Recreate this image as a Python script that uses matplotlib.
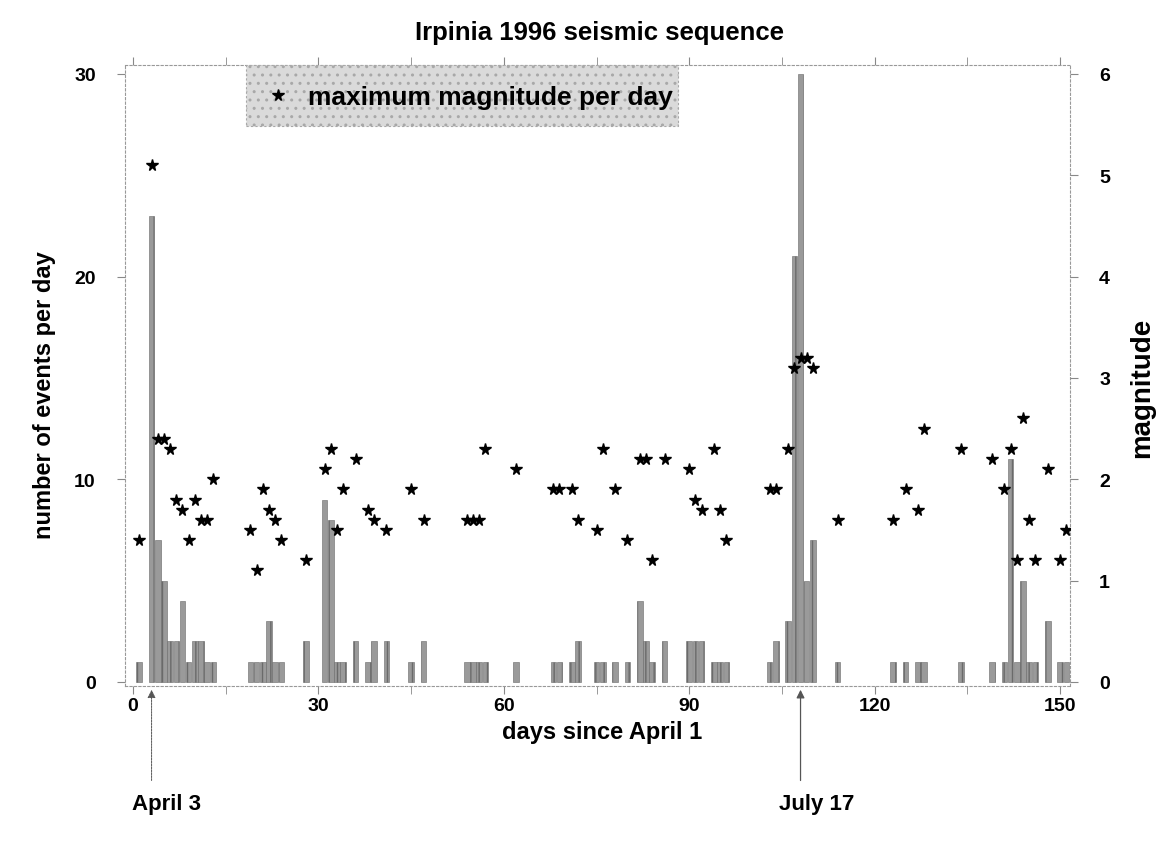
import matplotlib.pyplot as plt
import matplotlib.patches as patches
from matplotlib.ticker import MultipleLocator

plt.rcParams['font.family'] = ['Liberation Sans', 'DejaVu Sans']
plt.rcParams['font.weight'] = 'bold'

# dias com eventos (dias desde 1 de abril)
dias = [1, 3, 4, 5, 6, 7, 8, 9, 10, 11, 12, 13, 19, 20, 21, 22, 23, 24, 28,
        31, 32, 33, 34, 36, 38, 39, 41, 45, 47, 54, 55, 56, 57, 62, 68, 69,
        71, 72, 75, 76, 78, 80, 82, 83, 84, 86, 90, 91, 92, 94, 95, 96, 103,
        104, 106, 107, 108, 109, 110, 114, 123, 125, 127, 128, 134, 139, 141,
        142, 143, 144, 145, 146, 148, 150, 151]
# numero de eventos por dia
eventos = [1, 23, 7, 5, 2, 2, 4, 1, 2, 2, 1, 1, 1, 1, 1, 3, 1, 1, 2,
           9, 8, 1, 1, 2, 1, 2, 2, 1, 2, 1, 1, 1, 1, 1, 1, 1,
           1, 2, 1, 1, 1, 1, 4, 2, 1, 2, 2, 2, 2, 1, 1, 1, 1,
           2, 3, 21, 30, 5, 7, 1, 1, 1, 1, 1, 1, 1, 1,
           11, 1, 5, 1, 1, 3, 1, 1]
# magnitude maxima por dia
magnitude = [1.4, 5.1, 2.4, 2.4, 2.3, 1.8, 1.7, 1.4, 1.8, 1.6, 1.6, 2.0, 1.5, 1.1, 1.9, 1.7, 1.6, 1.4, 1.2,
             2.1, 2.3, 1.5, 1.9, 2.2, 1.7, 1.6, 1.5, 1.9, 1.6, 1.6, 1.6, 1.6, 2.3, 2.1, 1.9, 1.9,
             1.9, 1.6, 1.5, 2.3, 1.9, 1.4, 2.2, 2.2, 1.2, 2.2, 2.1, 1.8, 1.7, 2.3, 1.7, 1.4, 1.9,
             1.9, 2.3, 3.1, 3.2, 3.2, 3.1, 1.6, 1.6, 1.9, 1.7, 2.5, 2.3, 2.2, 1.9,
             2.3, 1.2, 2.6, 1.6, 1.2, 2.1, 1.2, 1.5]

W, H = 1160, 845
fig = plt.figure(figsize=(11.6, 8.45), dpi=100)
ax = fig.add_axes([125 / W, 1 - 687 / H, 945 / W, 621 / H])
ax.bar(dias, eventos, width=0.9, color='#9a9a9a', edgecolor='#6a6a6a', linewidth=0.4, hatch='||')
ax.set_xlim(-1.3, 151.6)
ax.set_ylim(-0.2, 30.44)
ax.xaxis.set_major_locator(MultipleLocator(30))
ax.xaxis.set_minor_locator(MultipleLocator(15))
ax.set_yticks([0, 10, 20, 30])
ax.tick_params(axis='both', which='both', direction='out', labelsize=14, color='#888888')
ax.tick_params(axis='x', which='both', length=6, pad=2, top=True)
ax.tick_params(axis='y', length=6, pad=15)
for s in ax.spines.values():
    s.set_color('#999999')
    s.set_linewidth(0.8)
    s.set_linestyle((0, (2, 2)))

ax2 = ax.twinx()
ax2.plot(dias, magnitude, '*', color='black', markersize=8.5, label='maximum magnitude per day')
ax2.set_ylim(-0.04, 6.088)
ax2.set_yticks([0, 1, 2, 3, 4, 5, 6])
ax2.tick_params(axis='y', direction='out', length=6, pad=15, labelsize=14, color='#888888')
for s in ax2.spines.values():
    s.set_visible(False)

# caixa da legenda
caixa = patches.Rectangle((246 / W, 1 - 127 / H), 432 / W, 61 / H, transform=fig.transFigure,
                          facecolor='#dadada', edgecolor='#a8a8a8', hatch='..', linewidth=0.8,
                          linestyle=(0, (2, 2)), clip_on=False, zorder=4)
ax2.add_patch(caixa)
fs = 19
em = fs * 100 / 72
leg = ax2.legend(loc='center left', bbox_to_anchor=((277.7 - em / 2) / W, 1 - 98 / H),
                 bbox_transform=fig.transFigure, fontsize=fs, frameon=False,
                 borderpad=0, borderaxespad=0, handlelength=1.0,
                 handletextpad=(308 - 277.7 - em / 2) / em)
leg.set_zorder(5)

fig.text(0.517, 1 - 33 / H, 'Irpinia 1996 seismic sequence', ha='center', va='center', fontsize=18.5)
fig.text(45 / W, 1 - 395 / H, 'number of events per day', ha='center', va='center',
         rotation=90, fontsize=17)
fig.text(0.519, 1 - 733 / H, 'days since April 1', ha='center', va='center', fontsize=17)
fig.text(1142 / W, 1 - 388 / H, 'magnitude', ha='center', va='center', rotation=90, fontsize=20)

# setas das datas
ax.annotate('', xy=(3, -0.25), xytext=(3, -5.0), annotation_clip=False,
            arrowprops=dict(arrowstyle='-|>', color='#555555', lw=0.7, mutation_scale=12,
                            linestyle=(0, (2, 1))))
ax.annotate('', xy=(108, -0.25), xytext=(108, -5.0), annotation_clip=False,
            arrowprops=dict(arrowstyle='-|>', color='#555555', lw=0.9, mutation_scale=12))
fig.text(167 / W, 1 - 805 / H, 'April 3', ha='center', va='center', fontsize=16)
fig.text(817 / W, 1 - 805 / H, 'July 17', ha='center', va='center', fontsize=16)

plt.savefig('out.png', dpi=100)
plt.close()
